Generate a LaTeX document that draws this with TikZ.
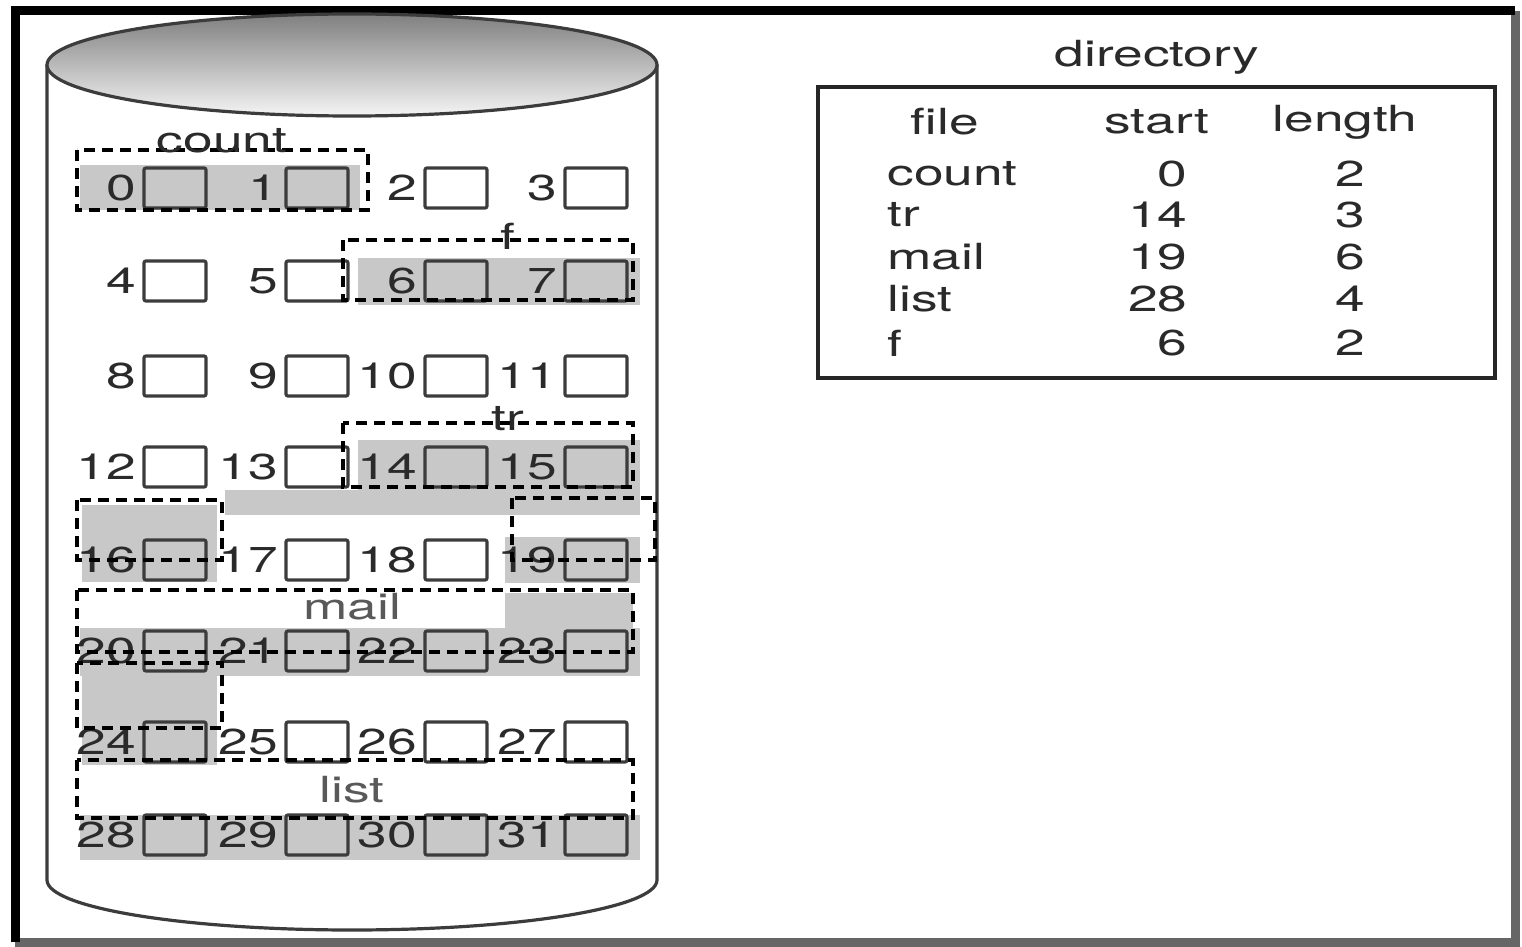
\documentclass[tikz,border=0pt]{standalone}
\usepackage{fontspec}
\setmainfont[FakeStretch=1.48]{TeX Gyre Heros}
\definecolor{txt}{HTML}{2A2A2A}
\definecolor{bandgray}{HTML}{C8C8C8}
\definecolor{edge}{HTML}{3C3C3C}
\begin{document}
\begin{tikzpicture}[x=0.5pt,y=-0.5pt,
  lbl/.style={font=\fontsize{18}{20}\selectfont, text=txt, inner sep=0pt},
  blk/.style={draw=edge, line width=1.6pt, rounded corners=1pt, minimum width=31pt, minimum height=20pt, inner sep=0pt},
  filebox/.style={draw=black, line width=2.3pt, dash pattern=on 5.5pt off 3.5pt},
  band/.style={fill=bandgray, draw=none},
  cyl/.style={draw=edge, line width=1.6pt},
]
\path[use as bounding box, fill=white] (0,0) rectangle (1522,947);
% outer frame
\draw[line width=4.5pt, black!60] (15,942) -- (1515,942) -- (1515,11);
\draw[line width=4.5pt, black] (15,942) -- (15,11) -- (1515,11);

% cylinder
\draw[cyl] (47,65) -- (47,880) arc[start angle=180, end angle=0, x radius=305, y radius=50] -- (657,65);
\draw[cyl, top color=black!50, bottom color=black!4] (352,65) ellipse [x radius=305, y radius=51];

% gray bands of allocated blocks
\fill[band] (80,165) rectangle (360,210);
\fill[band] (358,258) rectangle (640,305);
\fill[band] (358,440) rectangle (640,515);
\fill[band] (225,490) rectangle (360,515);
\fill[band] (82,505) rectangle (217,582);
\fill[band] (505,537) rectangle (640,583);
\fill[band] (505,593) rectangle (633,630);
\fill[band] (80,628) rectangle (640,676);
\fill[band] (82,663) rectangle (217,765);
\fill[band] (80,815) rectangle (640,860);

% blocks
\foreach \r/\yy in {0/188,1/281,2/376,3/467,4/560,5/651,6/742,7/835} {
  \foreach \c/\xx in {0/175,1/317,2/456,3/596} {
    \pgfmathtruncatemacro\bn{4*\r+\c}
    \node[blk] (b\bn) at (\xx,\yy) {};
    \node[lbl, anchor=east] (n\bn) at ([xshift=-3pt]b\bn.west) {\bn};
  }
}

% file extents
\draw[filebox] (77,150) rectangle (368,210);
\node[lbl] (lcount) at (222,141) {count};
\draw[filebox] (343,240) rectangle (633,300);
\node[lbl] (lf) at (508,236) {f};
\draw[filebox] (343,423) rectangle (633,487);
\node[lbl] (ltr) at (508,419) {tr};
\draw[filebox] (77,500) rectangle (222,560);
\draw[filebox] (512,498) rectangle (655,560);
\draw[filebox] (77,590) rectangle (633,652);
\node[lbl, text=black!65] (lmail) at (352,607) {mail};
\draw[filebox] (77,663) rectangle (222,728);
\draw[filebox] (77,760) rectangle (633,818);
\node[lbl, text=black!65] (llist) at (352,790) {list};

% directory
\node[lbl] (dir) at (1157,57) {directory};
\draw[line width=2.2pt, draw=black!85] (818,87) rectangle (1495,378);
\node[lbl] (hfile) at (945,122) {file};
\node[lbl] (hstart) at (1157,122) {start};
\node[lbl] (hlen) at (1345,122) {length};
\foreach \nm/\st/\ln/\yy in {count/0/2/174, tr/14/3/215, mail/19/6/257, list/28/4/299, f/6/2/343} {
  \node[lbl, anchor=west] (d\nm) at (887,\yy) {\nm};
  \node[lbl, anchor=east] (s\nm) at (1188,\yy) {\st};
  \node[lbl] (l\nm) at (1350,\yy) {\ln};
}
\end{tikzpicture}
\end{document}
